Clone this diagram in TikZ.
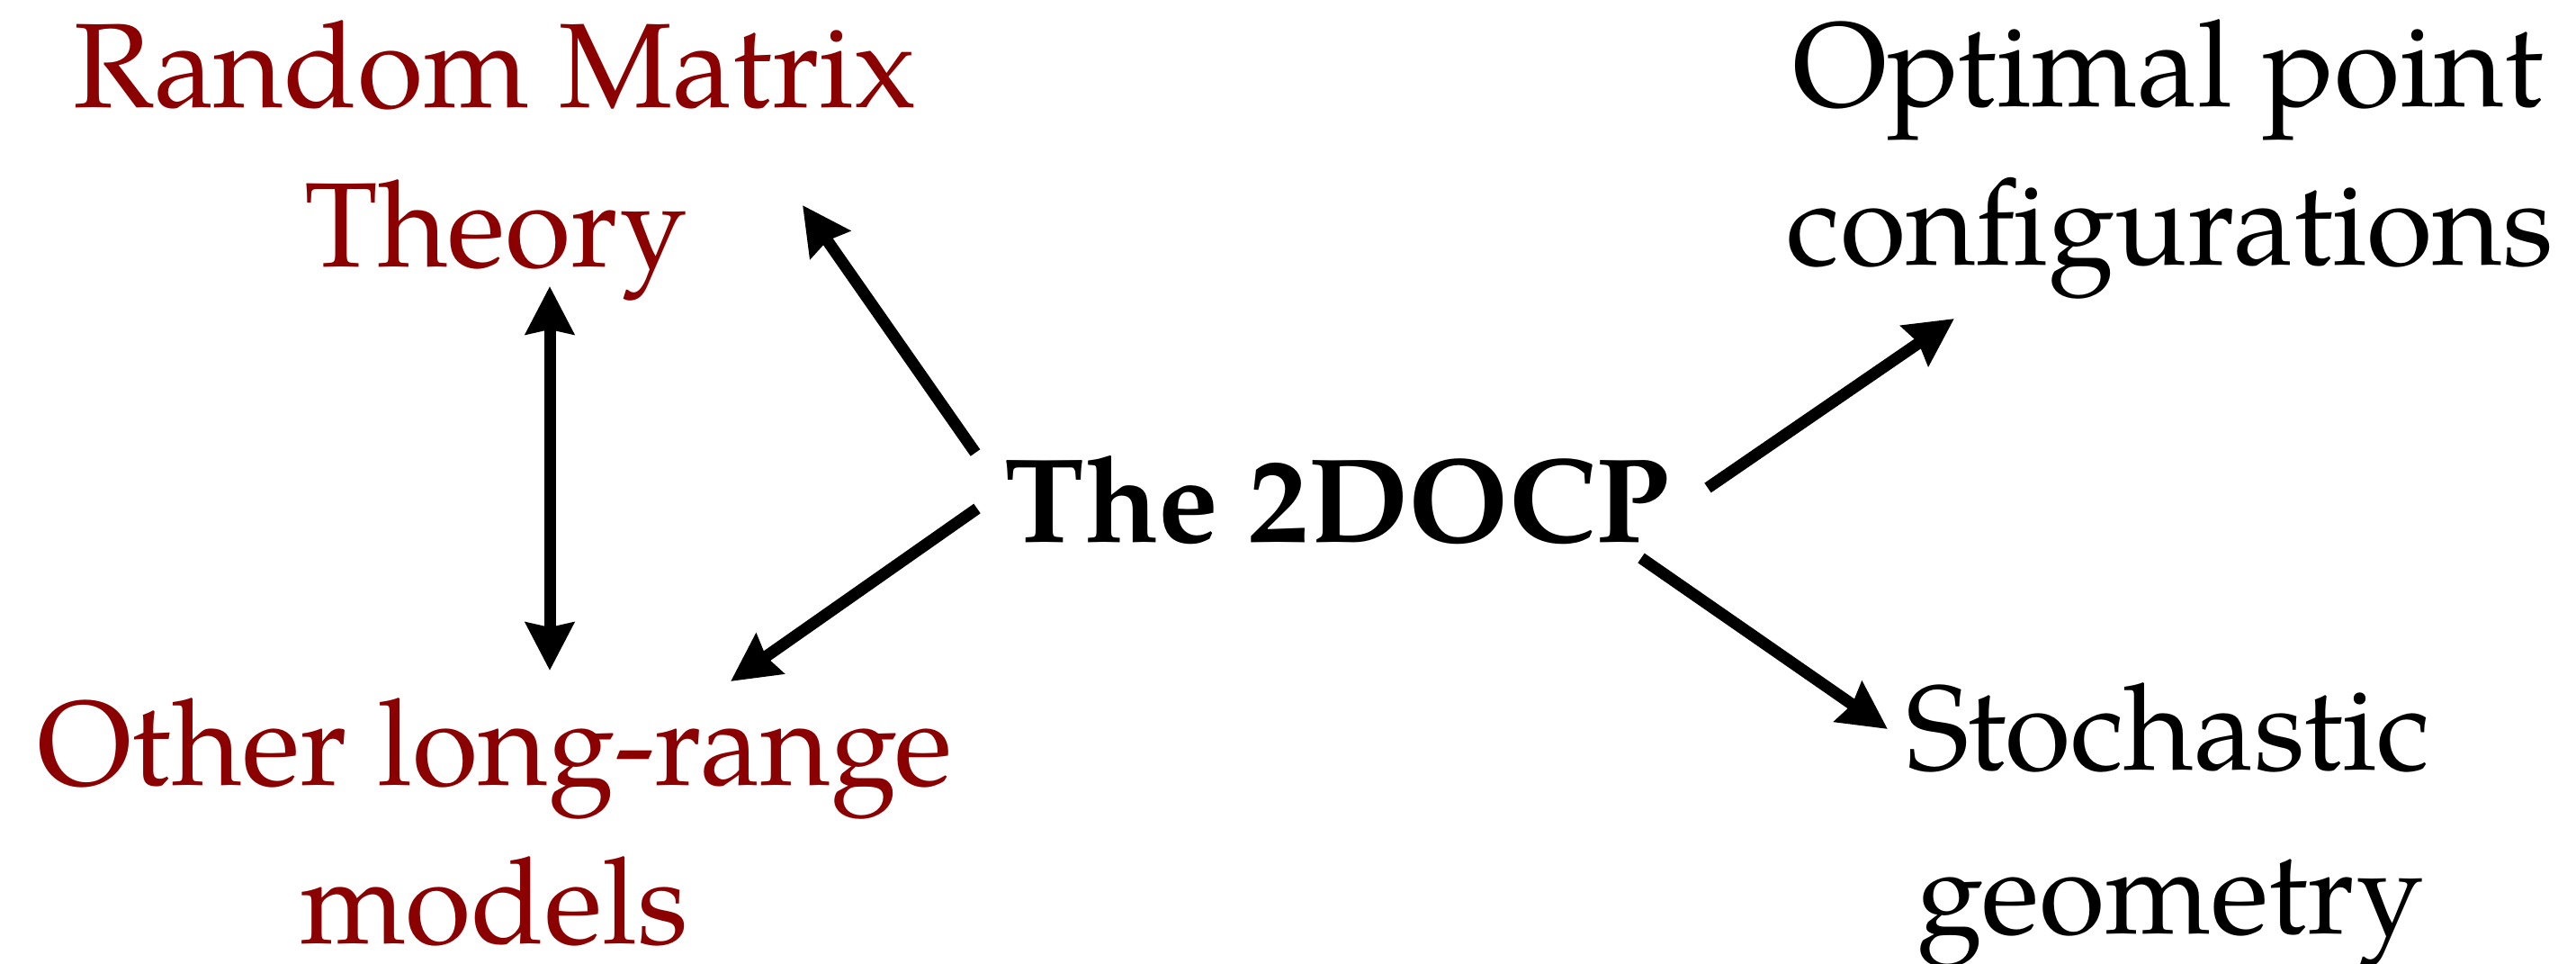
\documentclass[tikz,border=0pt]{standalone}
\usepackage{fontspec}
\setmainfont{TeX Gyre Pagella}
\usetikzlibrary{arrows.meta}
\definecolor{rmtred}{RGB}{139,0,0}
\tikzset{
  lbl/.style={anchor=base, inner sep=0pt, font=\fontsize{38}{50}\selectfont},
  redlbl/.style={lbl, text=rmtred},
  conn/.style={line width=0.13cm, -{Stealth[length=0.53cm,width=0.53cm,inset=0.05cm]}},
  dconn/.style={line width=0.13cm, {Stealth[length=0.53cm,width=0.53cm,inset=0.05cm]}-{Stealth[length=0.53cm,width=0.53cm,inset=0.05cm]}}
}
\begin{document}
\begin{tikzpicture}
\useasboundingbox (0,0) rectangle (28.63,10.70);
% labels
\node[redlbl] (rmtA) at (5.50,9.50) {Random Matrix};
\node[redlbl] (rmtB) at (5.51,7.74) {Theory};
\node[redlbl] (olrA) at (5.50,1.98) {Other long-range};
\node[redlbl] (olrB) at (5.49,0.22) {models};
\node[lbl, font=\fontsize{38}{50}\selectfont\bfseries] (ocp) at (14.86,4.68) {The 2DOCP};
\node[lbl] (opcA) at (24.10,9.51) {Optimal point};
\node[lbl] (opcB) at (24.12,7.75) {configurations};
\node[lbl] (sgA) at (24.10,2.15) {Stochastic};
\node[lbl] (sgB) at (24.12,0.33) {geometry};
% connector end points
\coordinate (t1) at (10.84,5.67);
\coordinate (h1) at (8.92,8.42);
\coordinate (va) at (6.11,7.52);
\coordinate (vb) at (6.11,3.25);
\coordinate (t2) at (10.86,5.05);
\coordinate (h2) at (8.12,3.13);
\coordinate (t3) at (18.98,5.28);
\coordinate (h3) at (21.72,7.16);
\coordinate (t4) at (18.24,4.50);
\coordinate (h4) at (20.98,2.60);
% connectors
\draw[conn] (t1) -- (h1);
\draw[dconn] (va) -- (vb);
\draw[conn] (t2) -- (h2);
\draw[conn] (t3) -- (h3);
\draw[conn] (t4) -- (h4);
\end{tikzpicture}
\end{document}
